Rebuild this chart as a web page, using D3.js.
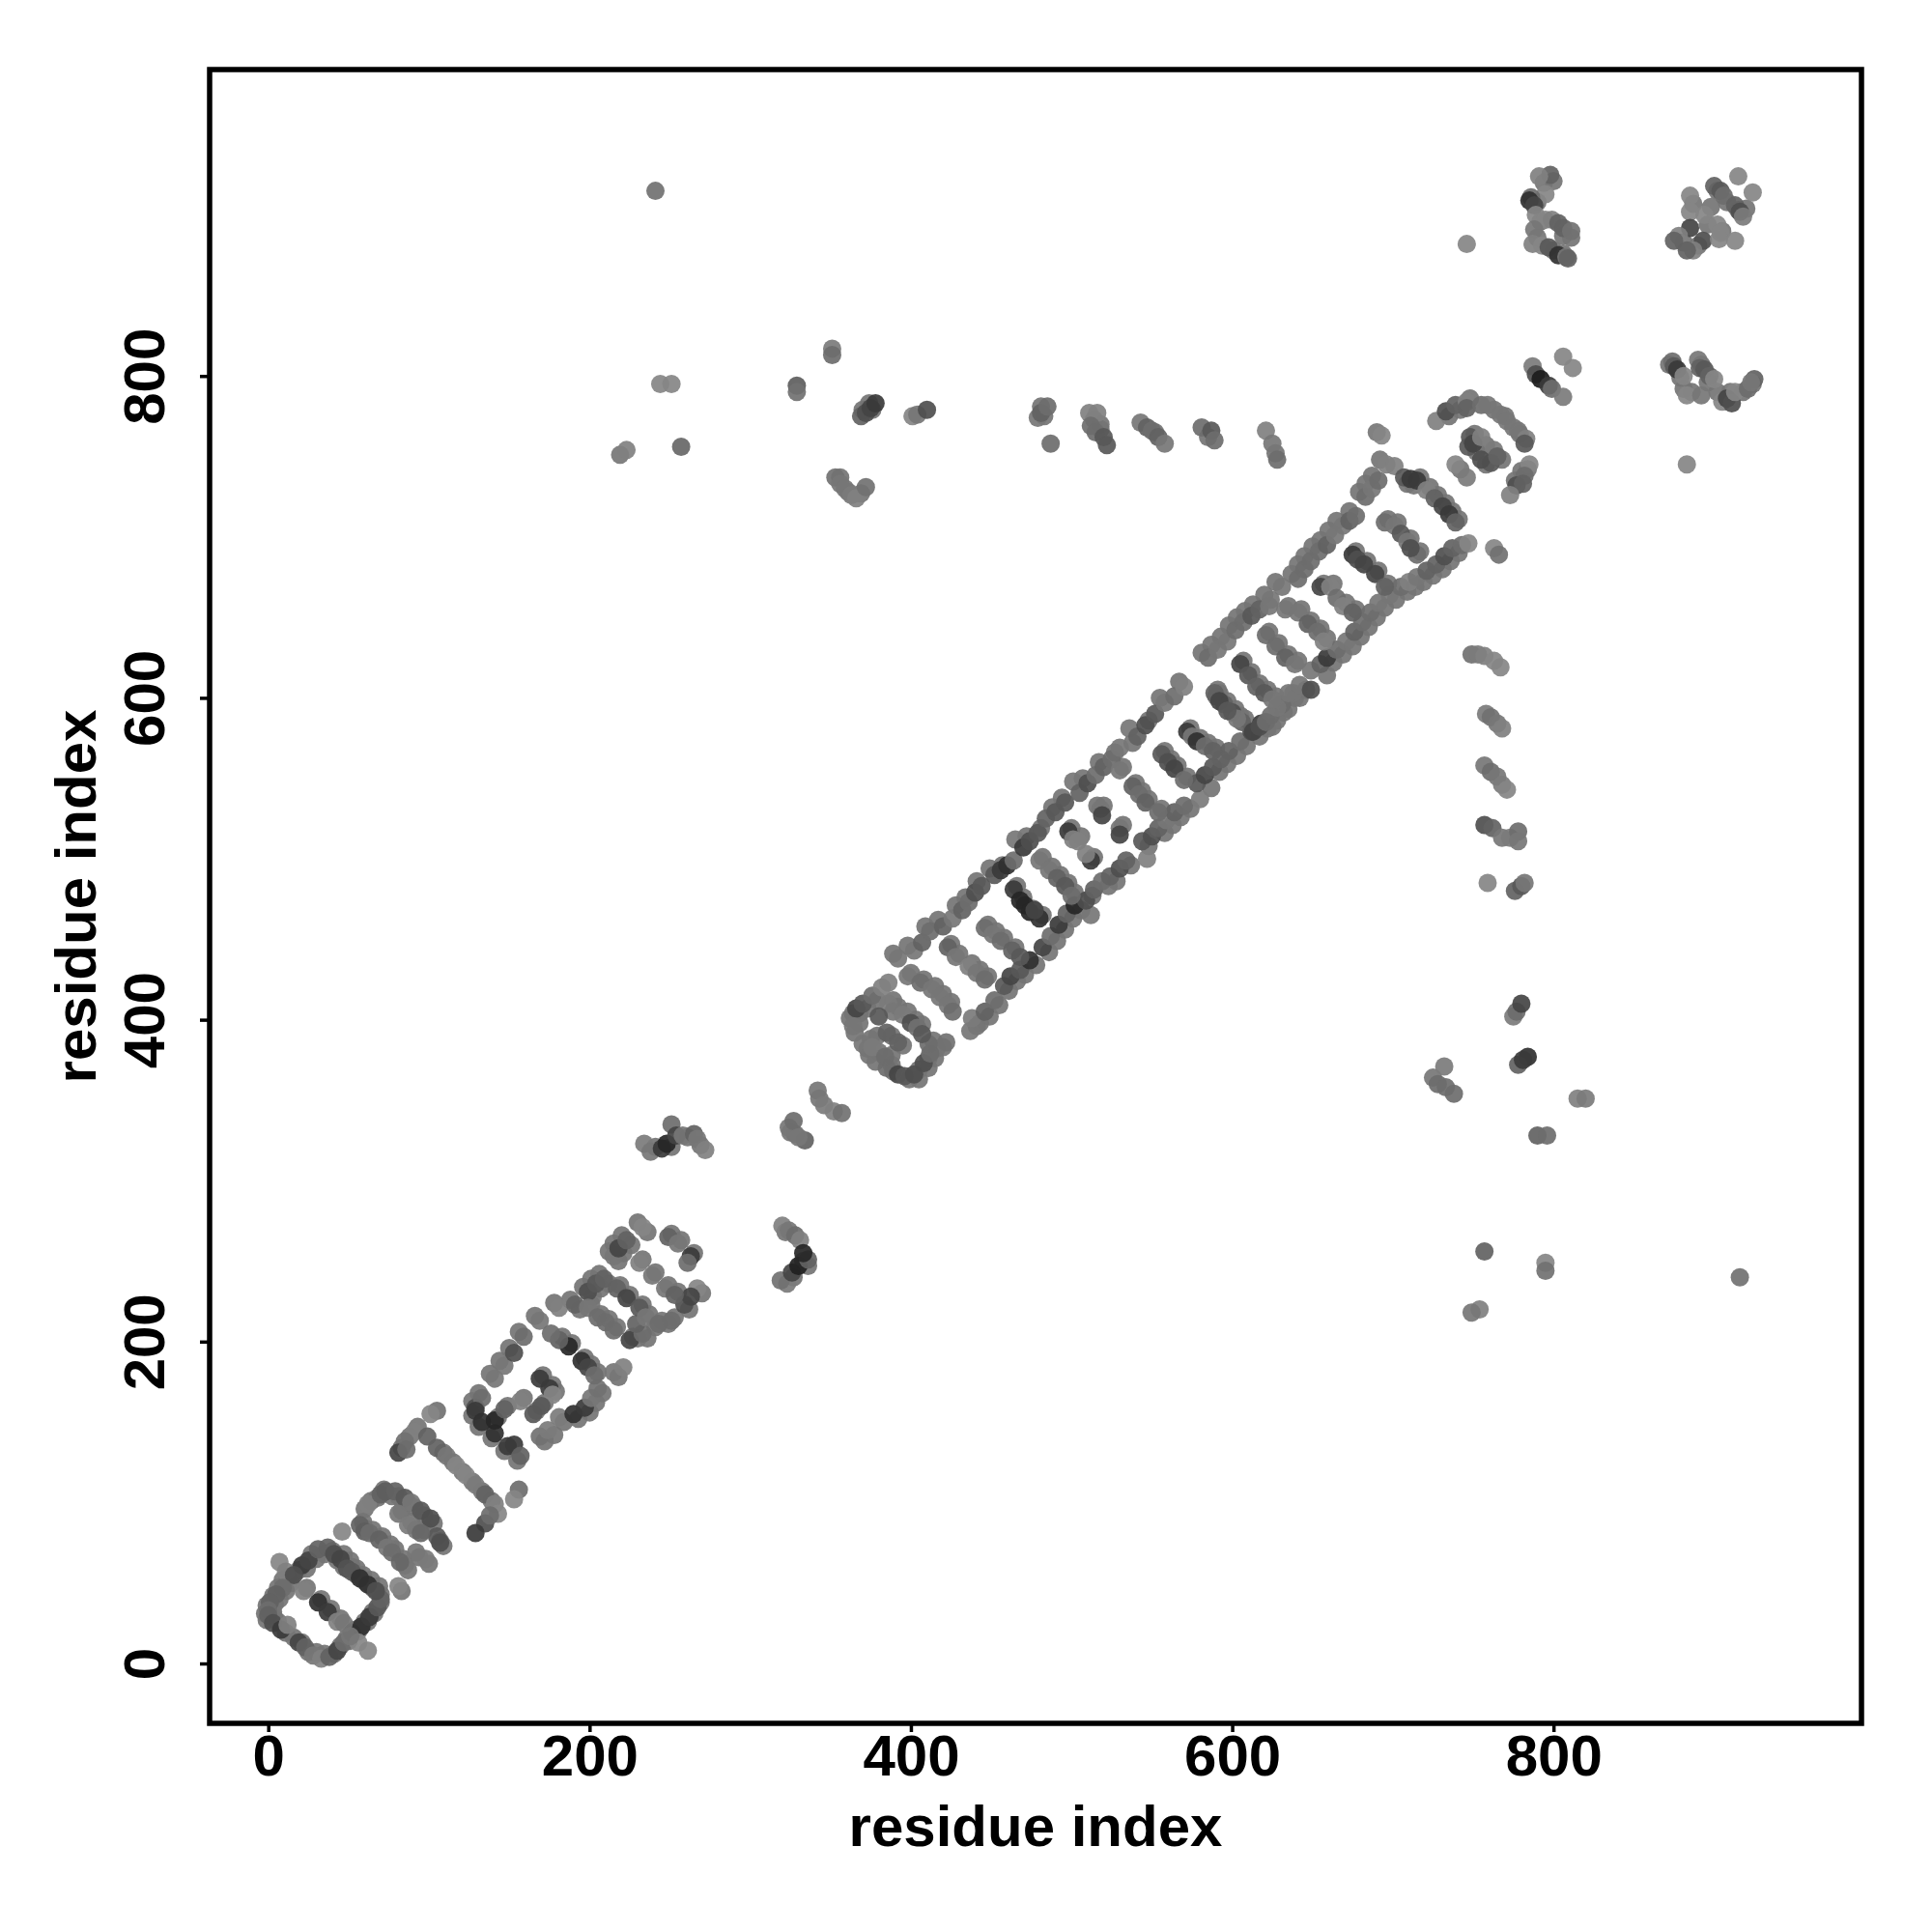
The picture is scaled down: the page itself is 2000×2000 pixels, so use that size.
<!DOCTYPE html>
<html><head><meta charset="utf-8"><script src="https://d3js.org/d3.v7.min.js"></script>
<style>html,body{margin:0;background:#fff}</style></head><body><svg id="c" width="2000" height="2000"></svg>
<script>
const tickValues=[0,200,400,600,800];
const axisTitle="residue index";
// [x, y, grey level]
const ringOne=[[7,63,125],[11,57,120],[21,61,50],[25,64,60],[31,71,90],[37,72,90],[16,55,70],[9,47,100],[5,43,90],[1,38,90],[0,33,100],[0,30,90],[3,25,70],[8,21,50],[12,24,120],[19,13,60],[23,10,90],[28,5,110],[33,3,120],[38,4,90],[43,8,60],[47,13,100],[52,19,50],[58,23,40],[63,29,50],[68,35,80],[70,40,90],[41,68,70],[45,65,60],[49,59,75],[52,57,80],[57,53,40],[62,49,40],[67,45,70],[22,45,120],[31,38,40],[37,32,50],[43,26,120],[47,25,110],[62,8,125],[56,13,125],[51,17,110]];
const ringTwo=[[46,82,125],[57,86,90],[62,99,120],[70,105,90],[73,107,85],[79,107,90],[85,103,80],[89,100,110],[95,95,80],[101,90,70],[105,79,80],[107,75,70],[98,65,115],[92,69,110],[85,61,110],[81,48,125],[60,82,85],[63,81,100],[69,77,90],[74,72,110],[77,69,100],[82,63,95],[81,93,110],[87,86,115],[92,83,110],[95,81,95]];
const bracket=[[105,157,105],[101,155,125],[91,144,120],[85,138,105],[81,131,60],[86,133,100],[99,141,90],[105,134,90],[111,129,110],[117,123,125],[123,117,125],[129,111,115],[135,105,90],[141,99,120],[143,93,125],[135,87,70],[129,81,50],[156,108,100],[153,102,125],[138,92,100]];
const ladderTwoOuter=[[129,159,70],[133,165,100],[141,177,110],[147,185,110],[153,193,70],[159,203,100],[169,213,110],[181,221,120],[129,157,50],[133,150,40],[141,143,40],[149,135,50],[153,136,50],[157,129,90],[169,141,105],[174,145,115],[181,153,115],[190,155,40],[197,159,50],[201,165,110],[205,171,105],[215,181,110],[221,184,120]];
const ladderTwoRungs=[[141,151,30],[147,158,90],[157,163,120],[169,177,50],[175,171,50],[177,167,125],[165,155,80],[170,160,80],[187,197,30],[181,201,90],[176,205,100],[195,188,40],[199,184,60],[203,179,100]];
const ladderThree=[[191,223,90],[199,231,70],[204,236,80],[209,239,90],[215,253,110],[218,258,60],[223,263,90],[233,271,125],[199,221,110],[205,215,100],[210,212,100],[215,207,100],[225,201,60],[233,205,100],[229,211,90],[217,233,90],[223,227,60],[231,221,80],[235,215,110],[243,211,100],[251,213,100],[259,223,70],[267,233,125],[263,228,60],[231,249,120],[239,241,110],[247,233,110],[253,229,90],[249,265,90],[255,261,110],[263,253,50],[261,249,100]];
const bridgeClusters=[[234,323,115],[238,318,110],[245,320,50],[248,323,30],[251,335,100],[254,328,60],[258,328,110],[265,329,90],[267,326,110],[272,319,120],[320,272,120],[324,269,110],[328,266,100],[331,263,120],[323,236,115],[319,238,105],[326,243,60],[330,247,25],[336,251,90],[333,255,30],[324,333,110],[327,337,100],[334,325,90],[330,327,110],[342,356,110],[343,351,110],[346,347,115],[352,343,120],[357,342,105]];
const blockFour=[[366,407,60],[364,396,110],[370,410,80],[376,415,100],[382,420,120],[386,423,120],[370,385,110],[376,383,115],[384,377,100],[385,370,100],[392,366,60],[396,365,80],[402,366,70],[408,373,70],[412,379,100],[422,386,105],[385,392,90],[392,386,90],[386,410,115],[389,405,110],[395,403,115],[400,398,70],[404,395,105],[411,385,100],[407,391,80],[380,402,80]];
const upperStrand=[[392,438,110],[402,443,110],[407,448,90],[412,455,100],[420,458,90],[426,463,110],[432,468,90],[436,473,100],[440,479,70],[444,483,80],[452,490,80],[456,493,50],[460,496,40],[464,499,100],[465,512,110],[470,507,50],[474,511,70],[479,516,80],[484,525,90],[490,529,80],[496,535,80],[501,548,110],[505,541,90],[510,547,70],[515,552,100],[520,557,90],[525,562,100],[530,569,110],[536,581,110],[541,576,90],[546,583,70],[552,590,80],[558,597,110],[564,601,100],[570,607,120]];
const lowerStrand=[[437,393,110],[438,401,115],[446,405,90],[452,412,100],[458,421,80],[462,427,60],[468,431,80],[474,437,40],[482,445,60],[487,452,100],[492,459,50],[497,466,90],[502,471,30],[512,465,110],[509,474,70],[514,481,90],[519,486,100],[524,489,90],[530,494,70],[534,499,90],[547,500,120],[544,511,80],[550,514,70],[554,519,90],[559,524,110],[564,529,90],[570,533,100],[580,537,115],[578,547,80],[583,552,60],[588,557,80],[593,562,90],[598,567,90],[605,573,100],[612,579,70],[618,584,50],[624,589,100],[631,596,100],[638,603,110]];
const rungsFour=[[398,427,110],[406,423,100],[413,419,110],[418,414,110],[423,409,110],[426,405,100],[423,445,90],[428,439,110],[436,433,120],[441,429,110],[446,425,100],[446,457,100],[451,453,110],[456,449,100],[463,443,90],[468,439,80],[464,481,50],[468,474,30],[471,471,30],[474,467,30],[480,463,40],[477,468,60],[480,499,110],[486,493,110],[491,488,90],[496,483,80],[500,477,100],[498,517,50],[501,512,120],[504,511,120],[512,499,50],[509,503,120],[518,531,110],[519,527,60],[530,519,110],[530,515,60],[530,555,110],[538,545,90],[542,540,100],[546,535,90],[554,529,100],[556,565,80],[560,560,70],[564,556,60],[570,549,100],[572,579,50],[575,576,110],[578,573,40],[583,570,100],[588,567,90],[590,601,100],[595,596,90],[600,591,70],[606,585,90]];
const strandFive=[[585,625,100],[591,630,110],[597,635,110],[602,642,100],[607,647,100],[612,651,80],[617,655,90],[624,661,110],[631,669,110],[641,674,100],[645,680,100],[649,685,100],[654,691,100],[659,695,90],[664,701,110],[669,707,110],[673,710,90],[677,713,100],[683,725,100],[687,730,110],[691,735,100],[696,745,120],[701,744,120]];
const topCorner=[[707,737,80],[711,736,50],[715,735,50],[721,729,120],[726,724,90],[731,719,60],[735,714,50],[739,709,90]];
const lowerFive=[[613,579,60],[617,582,70],[621,585,100],[628,594,110],[635,603,110],[642,608,110],[649,605,70],[649,617,110],[655,621,90],[659,625,50],[665,630,100],[671,635,110],[676,641,90],[681,647,100],[686,653,100],[691,659,110],[698,664,110],[705,669,100],[710,672,120],[715,675,110],[721,679,90],[727,683,90],[732,688,70],[737,693,90],[743,695,100],[747,696,125]];
const rungsFive=[[589,603,90],[592,598,60],[603,587,110],[597,592,80],[605,621,60],[610,614,80],[615,607,90],[620,603,80],[625,599,110],[621,639,100],[627,632,100],[633,625,90],[639,621,110],[623,657,110],[633,655,110],[641,653,110],[647,646,90],[653,641,100],[657,635,120],[655,669,60],[661,669,120],[665,662,100],[669,657,120],[675,653,90],[675,689,50],[678,686,70],[682,683,60],[689,677,60],[695,669,90],[695,709,100],[701,707,110],[705,702,80],[709,697,110],[715,689,100],[711,693,70]];
const outliersNearDiagonal=[[621,766,120],[625,758,110],[628,748,100],[690,765,110],[693,763,125],[763,693,125],[766,689,105],[749,627,105],[753,627,115],[757,626,120],[763,623,125],[767,619,125],[758,590,115],[761,588,105],[765,584,110],[768,581,120],[757,558,110],[761,554,100],[765,551,110],[768,546,115],[771,543,125],[757,521,70],[762,519,90],[768,513,110],[773,513,115],[778,517,100],[778,511,110],[759,485,125],[776,480,90],[780,483,80],[782,485,110]];
const outliersLow=[[757,256,90],[754,220,120],[749,218,110],[795,249,125],[795,244,105],[916,240,105],[790,328,90],[796,328,100],[815,351,120],[820,351,115],[725,364,110],[728,360,100],[732,371,115],[733,358,100],[738,354,100],[784,377,40],[778,372,90],[781,375,50],[775,402,115],[777,405,100],[780,410,60]];
const clusterE=[[727,772,120],[733,778,70],[739,782,90],[746,784,120],[746,780,90],[755,782,100],[759,782,110],[767,776,110],[771,772,110],[775,768,110],[783,761,120],[782,758,80],[748,762,80],[747,756,80],[750,758,60],[755,762,120],[763,754,115],[761,746,80],[755,748,70],[765,750,90],[739,745,125],[746,737,115],[785,745,125],[782,738,100],[777,732,70],[781,733,90],[773,726,120]];
const clusterA=[[798,925,90],[791,924,120],[795,913,125],[786,911,100],[785,909,40],[788,906,60],[789,900,125],[795,897,125],[799,897,120],[803,895,90],[806,892,90],[811,890,105],[788,891,110],[787,882,120],[793,881,125],[797,880,80],[803,875,40],[808,874,110],[809,873,90],[746,882,125]];
const clusterB=[[915,924,125],[924,914,125],[900,918,90],[904,915,80],[906,912,100],[913,906,90],[916,902,70],[918,899,115],[885,912,125],[885,902,125],[894,900,125],[902,894,125],[904,889,125],[885,892,60],[893,884,70],[878,887,120],[875,884,90],[887,878,120],[883,878,90],[903,885,125],[913,884,125]];
const clusterC=[[806,812,125],[812,805,125],[787,806,115],[789,801,70],[792,798,20],[797,794,50],[799,792,100],[806,787,115]];
const clusterD=[[874,809,100],[875,806,80],[877,804,50],[881,800,125],[890,810,110],[891,805,90],[894,804,80],[897,800,90],[900,798,125],[883,788,125],[892,788,110],[905,784,125],[908,786,60],[911,783,70],[913,790,125],[921,792,100],[925,798,90],[923,796,110],[883,745,125]];
const topRow=[[241,915,105],[219,751,110],[223,754,120],[244,795,125],[251,795,125],[257,756,95],[329,794,85],[329,790,105],[351,817,115],[351,813,100],[369,775,90],[372,777,70],[375,780,60],[378,783,50],[353,737,105],[356,733,110],[359,730,110],[363,726,115],[366,724,120],[372,731,105],[401,775,125],[404,776,110],[410,779,70],[479,774,110],[481,777,90],[485,781,100],[487,758,100],[511,777,120],[516,777,120],[512,769,100],[515,765,100],[520,762,80],[522,757,80],[543,771,110],[547,768,90],[550,766,100],[554,762,90],[558,758,110],[581,768,100],[587,766,80],[589,760,100]];
// neighbouring contacts that widen each band; drawn underneath
const ringOneWide=[[19,58],[24,59],[27,68],[30,65],[35,68],[40,70],[14,50],[11,45],[7,40],[4,37],[3,32],[4,28],[6,26],[11,19],[16,16],[21,13],[25,7],[30,7],[35,6],[41,6],[45,11],[49,16],[54,21],[60,26],[65,32],[70,38],[66,31],[62,26],[56,20],[50,14],[43,64],[47,60],[52,60],[55,55],[60,51],[65,47],[70,43],[47,68],[51,64],[55,59],[59,55],[64,52],[69,48],[12,54],[9,52],[6,47],[3,42],[-1,36],[-2,31],[-1,27],[24,47],[33,40],[39,34],[45,28]];
const ringTwoWide=[[59,88],[64,101],[72,108],[77,104],[81,104],[87,100],[91,97],[97,92],[103,87],[107,76],[109,73],[100,62],[94,66],[87,58],[83,45],[60,84],[65,83],[71,79],[76,74],[79,71],[84,65],[83,95],[89,88],[97,83],[60,96],[68,103]];
const bracketWide=[[109,131],[115,125],[121,119],[127,113],[133,107],[139,101],[83,134],[88,141],[93,147]];
const ladderTwoWide=[[127,163],[131,168],[138,180],[144,188],[150,196],[156,206],[166,216],[178,224],[127,154],[131,147],[139,140],[147,132],[155,126],[172,138],[178,142],[184,150],[193,152],[200,156],[204,162],[208,168],[218,178],[143,153],[149,160],[159,165],[171,179],[177,173],[179,169],[167,157],[172,162],[189,199],[183,203],[197,190],[201,186],[205,181]];
const ladderThreeWide=[[194,220],[202,228],[207,233],[212,236],[218,250],[221,255],[226,260],[236,268],[188,226],[196,234],[201,239],[206,242],[212,256],[215,261],[220,266],[230,274],[201,223],[207,217],[212,214],[217,209],[227,203],[236,202],[230,202],[219,235],[225,229],[233,223],[237,217],[245,213],[253,215],[262,220],[270,230],[241,209],[249,211],[233,251],[241,243],[249,235],[255,231],[251,267],[257,263],[265,255]];
const blockFourWide=[[368,404],[373,407],[379,412],[368,398],[362,401],[364,404],[373,382],[380,380],[388,372],[389,368],[388,378],[399,363],[405,369],[411,376],[416,382],[405,363],[411,370],[415,376],[420,383],[388,390],[395,384],[389,412],[392,408],[398,405],[403,400],[407,397],[414,387],[379,390],[374,378],[378,374],[375,388],[365,392]];
const upperStrandWide=[[389,441],[398,446],[409,458],[417,462],[428,471],[434,476],[441,486],[449,494],[457,496],[472,514],[481,519],[488,532],[494,538],[507,550],[517,560],[527,566],[538,572],[548,586],[555,600],[567,610]];
const lowerStrandWide=[[441,396],[443,398],[449,402],[455,409],[461,418],[466,424],[471,428],[478,434],[486,442],[491,449],[496,456],[501,463],[506,468],[513,477],[523,483],[528,486],[537,496],[548,508],[558,516],[563,521],[568,526],[574,531],[587,544],[592,554],[597,559],[603,564],[609,570],[622,581],[628,586],[635,593],[642,600]];
const rungsFourWide=[[400,429],[408,425],[415,421],[420,416],[425,411],[425,447],[430,441],[438,435],[443,431],[448,427],[448,459],[453,455],[458,451],[465,445],[466,483],[470,476],[476,469],[482,465],[482,501],[488,495],[493,490],[498,485],[502,479],[500,519],[514,501],[506,514],[516,533],[520,533],[532,521],[532,557],[540,547],[544,542],[548,537],[556,531],[558,567],[562,562],[566,558],[572,551],[574,581],[580,575],[585,572],[590,569],[592,603],[597,598],[602,593],[608,587]];
const strandFiveWide=[[581,628],[587,633],[593,638],[598,645],[603,650],[608,654],[613,658],[620,664],[627,672],[637,677],[641,683],[645,688],[650,694],[655,698],[660,704],[665,710],[673,716],[679,728],[683,733],[687,738],[692,748]];
const lowerFiveWide=[[617,576],[625,582],[632,591],[639,600],[646,605],[659,614],[663,622],[669,627],[675,632],[680,638],[685,644],[690,650],[695,656],[702,661],[709,666],[714,669],[719,672],[725,676],[731,680],[736,685],[741,690]];
const topCornerWide=[[709,733],[713,732],[717,737],[723,731],[728,726],[733,721],[737,716],[741,711]];
const rungsFiveWide=[[591,605],[605,589],[607,623],[612,616],[617,609],[622,605],[627,601],[623,641],[629,634],[635,627],[641,623],[635,657],[643,655],[649,648],[655,643],[659,637],[657,671],[663,671],[671,659],[677,655],[677,691],[684,685],[691,679],[697,671],[697,711],[703,709],[711,699],[717,691]];
const clustersWide=[[735,775],[742,779],[748,786],[763,779],[770,775],[778,766],[779,764],[751,764],[752,753],[758,757],[768,748],[758,745],[742,742],[780,741],[784,742],[776,735],[241,321],[251,321],[261,327],[269,322],[322,268],[327,240],[333,250],[336,247],[325,330],[328,329],[794,920],[800,921],[790,908],[792,896],[806,887],[790,886],[800,878],[806,876],[811,886],[902,915],[908,908],[915,903],[920,904],[887,907],[896,894],[905,890],[881,883],[890,881],[898,905],[872,807],[879,799],[892,807],[896,796],[902,790],[886,790],[910,790],[918,790],[924,795],[881,792],[370,779],[374,783],[376,779],[356,737],[361,728],[369,727],[481,781],[483,775],[514,773],[518,767],[518,770],[552,765],[585,762],[627,752]];
const wideGroups=[ringOneWide,ringTwoWide,bracketWide,ladderTwoWide,ladderThreeWide,blockFourWide,upperStrandWide,lowerStrandWide,rungsFourWide,strandFiveWide,lowerFiveWide,topCornerWide,rungsFiveWide,clustersWide];
const groups=[ringOne,ringTwo,bracket,ladderTwoOuter,ladderTwoRungs,ladderThree,bridgeClusters,blockFour,upperStrand,lowerStrand,rungsFour,strandFive,topCorner,lowerFive,rungsFive,outliersNearDiagonal,outliersLow,clusterE,clusterA,clusterB,clusterC,clusterD,topRow];

const L=217,R=1927,T=72,B=1784;
const x=d3.scaleLinear().domain([-36.5,991.7]).range([L,R]);
const y=d3.scaleLinear().domain([-37.2,990.4]).range([B,T]);
const svg=d3.select("#c");
const font="'Liberation Sans',Arial,sans-serif";
const grey=v=>d3.rgb(v,v,v).formatHex();
svg.append("g").selectAll("circle").data(wideGroups.flat()).join("circle")
 .attr("cx",d=>x(d[0])).attr("cy",d=>y(d[1])).attr("r",9.5).attr("fill",grey(116)).attr("fill-opacity",0.92);
svg.append("g").selectAll("circle").data(groups.flat()).join("circle")
 .attr("cx",d=>x(d[0])).attr("cy",d=>y(d[1])).attr("r",9.5)
 .attr("fill",d=>grey(d[2]+8)).attr("fill-opacity",0.92);
svg.append("rect").attr("x",L).attr("y",T).attr("width",R-L).attr("height",B-T).attr("fill","none").attr("stroke","#000").attr("stroke-width",5.5);
const gx=svg.append("g").attr("transform",`translate(0,${B})`).call(d3.axisBottom(x).tickValues(tickValues).tickSize(9).tickSizeOuter(0).tickFormat(d3.format("d")));
const gy=svg.append("g").attr("transform",`translate(${L},0)`).call(d3.axisLeft(y).tickValues(tickValues).tickSize(10).tickSizeOuter(0).tickFormat(d3.format("d")));
[gx,gy].forEach(g=>{g.select(".domain").remove();g.selectAll("line").attr("stroke","#000").attr("stroke-width",3.5);
 g.selectAll("text").attr("font-family",font).attr("font-weight","bold").attr("font-size",60).attr("fill","#000").attr("dy",null);});
gx.selectAll("text").attr("y",54);
gy.selectAll("text").attr("x",null).attr("text-anchor","middle").attr("transform","translate(-47,0) rotate(-90)");
svg.append("text").attr("x",1072).attr("y",1911).attr("text-anchor","middle").attr("font-family",font).attr("font-weight","bold").attr("font-size",60).text(axisTitle);
svg.append("text").attr("transform","translate(99,928) rotate(-90)").attr("text-anchor","middle").attr("font-family",font).attr("font-weight","bold").attr("font-size",60).text(axisTitle);
</script></body></html>
